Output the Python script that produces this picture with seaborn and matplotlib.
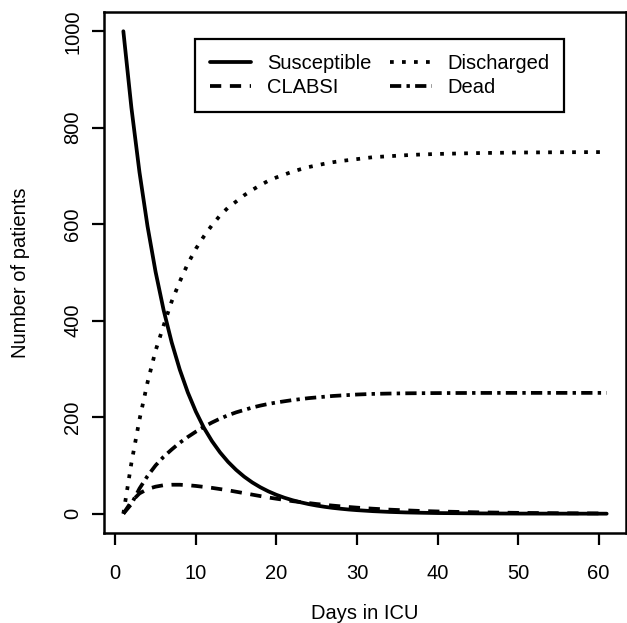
import pandas as pd
import matplotlib
matplotlib.use("Agg")
import matplotlib.pyplot as plt
import seaborn as sns

# Days in ICU and number of patients in each compartment
days = [1, 2, 3, 4, 5, 6, 7, 8, 9, 10, 11, 12, 13, 14, 15, 16, 17, 18, 19, 20,
        21, 22, 23, 24, 25, 26, 27, 28, 29, 30, 32, 34, 36, 38, 40, 45, 50, 55, 61]
susceptible = [1000, 841.5, 708.1, 595.9, 501.4, 421.9, 355.1, 298.8, 251.4, 211.6,
               178.0, 150.4, 127.1, 107.4, 90.8, 76.7, 64.8, 54.8, 46.3, 39.1,
               33.0, 27.9, 23.6, 19.9, 16.8, 14.2, 12.0, 10.2, 8.6, 7.3, 5.2, 3.7,
               2.6, 1.9, 1.3, 0.6, 0.2, 0.1, 0]
clabsi = [0, 25, 42, 51, 56, 59, 60, 60, 59, 57.5, 55.5, 53.5, 51, 48.5, 45.5,
          42.5, 39.5, 36.5, 33.5, 31, 28.5, 26, 24, 22, 20, 18.3, 16.7, 15.2,
          13.8, 12.5, 10.3, 8.4, 6.9, 5.6, 4.6, 2.8, 1.7, 1.0, 0.5]
discharged = [0, 105, 195, 272, 338, 390, 440, 481, 518, 549, 575, 598, 618, 634.5,
              647, 660, 671, 681, 690, 697, 703, 709, 714, 718.5, 722, 725.5, 728.5,
              731, 733, 735, 739, 741, 743, 744.6, 745.7, 747.5, 748.6, 749.2, 749.6]
dead = [0, 20, 52, 78, 100, 118, 133, 147, 159, 170, 180, 189, 197, 204, 210, 215,
        220, 224, 227.5, 230.5, 233, 235.5, 237.5, 239.5, 241, 242.5, 244, 245, 246,
        247, 248.3, 249, 249.5, 249.8, 250, 250.3, 250.4, 250.4, 250.4]

groups = ["Susceptible", "CLABSI", "Discharged", "Dead"]

df = pd.DataFrame({"Days in ICU": days, "Susceptible": susceptible,
                   "CLABSI": clabsi, "Discharged": discharged, "Dead": dead})
long_df = df.melt(id_vars="Days in ICU", var_name="group",
                  value_name="Number of patients")

sns.set_style("ticks")
plt.rcParams["font.family"] = ["Liberation Sans", "DejaVu Sans"]
plt.rcParams["font.size"] = 14.5
plt.rcParams["text.color"] = "black"
plt.rcParams["axes.labelcolor"] = "black"
plt.rcParams["xtick.color"] = "black"
plt.rcParams["ytick.color"] = "black"

fig = plt.figure(figsize=(6.27, 6.23), dpi=100)
ax = fig.add_axes([0.1659, 0.1445, 0.8325, 0.8363])

dash_map = {"Susceptible": "", "CLABSI": (3.0, 2.3),
            "Discharged": (1, 2.2), "Dead": (3.0, 1.4, 0.9, 1.4)}
sns.lineplot(data=long_df, x="Days in ICU", y="Number of patients",
             style="group", style_order=groups, dashes=dash_map,
             color="black", linewidth=2.7, ax=ax, legend=False)

ax.set_xlim(-1.4, 63.4)
ax.set_ylim(-40, 1040)
ax.set_xticks(range(0, 61, 10))
ax.set_yticks(range(0, 1001, 200))
for s in ax.spines.values():
    s.set_visible(True)
    s.set_linewidth(1.8)
    s.set_color("black")
ax.tick_params(axis="both", length=8.5, width=1.6, colors="black",
               labelsize=14.5)
ax.tick_params(axis="x", pad=14)
ax.tick_params(axis="y", pad=7, labelrotation=90)
for lab in ax.get_yticklabels():
    lab.set_va("center")
ax.set_xlabel("Days in ICU", fontsize=14.5, labelpad=15)
ax.set_ylabel("Number of patients", fontsize=14.5, labelpad=24)

handles = ax.get_lines()[:4]
leg = ax.legend(handles, groups, ncol=2, loc="upper left",
                bbox_to_anchor=(195 / 627, 1 - 39 / 623),
                bbox_transform=fig.transFigure, fancybox=False,
                framealpha=1, edgecolor="black", borderpad=0.75,
                labelspacing=0.25, handlelength=2.05, handletextpad=0.77,
                columnspacing=0.95, fontsize=14.5, borderaxespad=0)
leg.get_frame().set_linewidth(1.6)

fig.savefig("out.png", dpi=100)
